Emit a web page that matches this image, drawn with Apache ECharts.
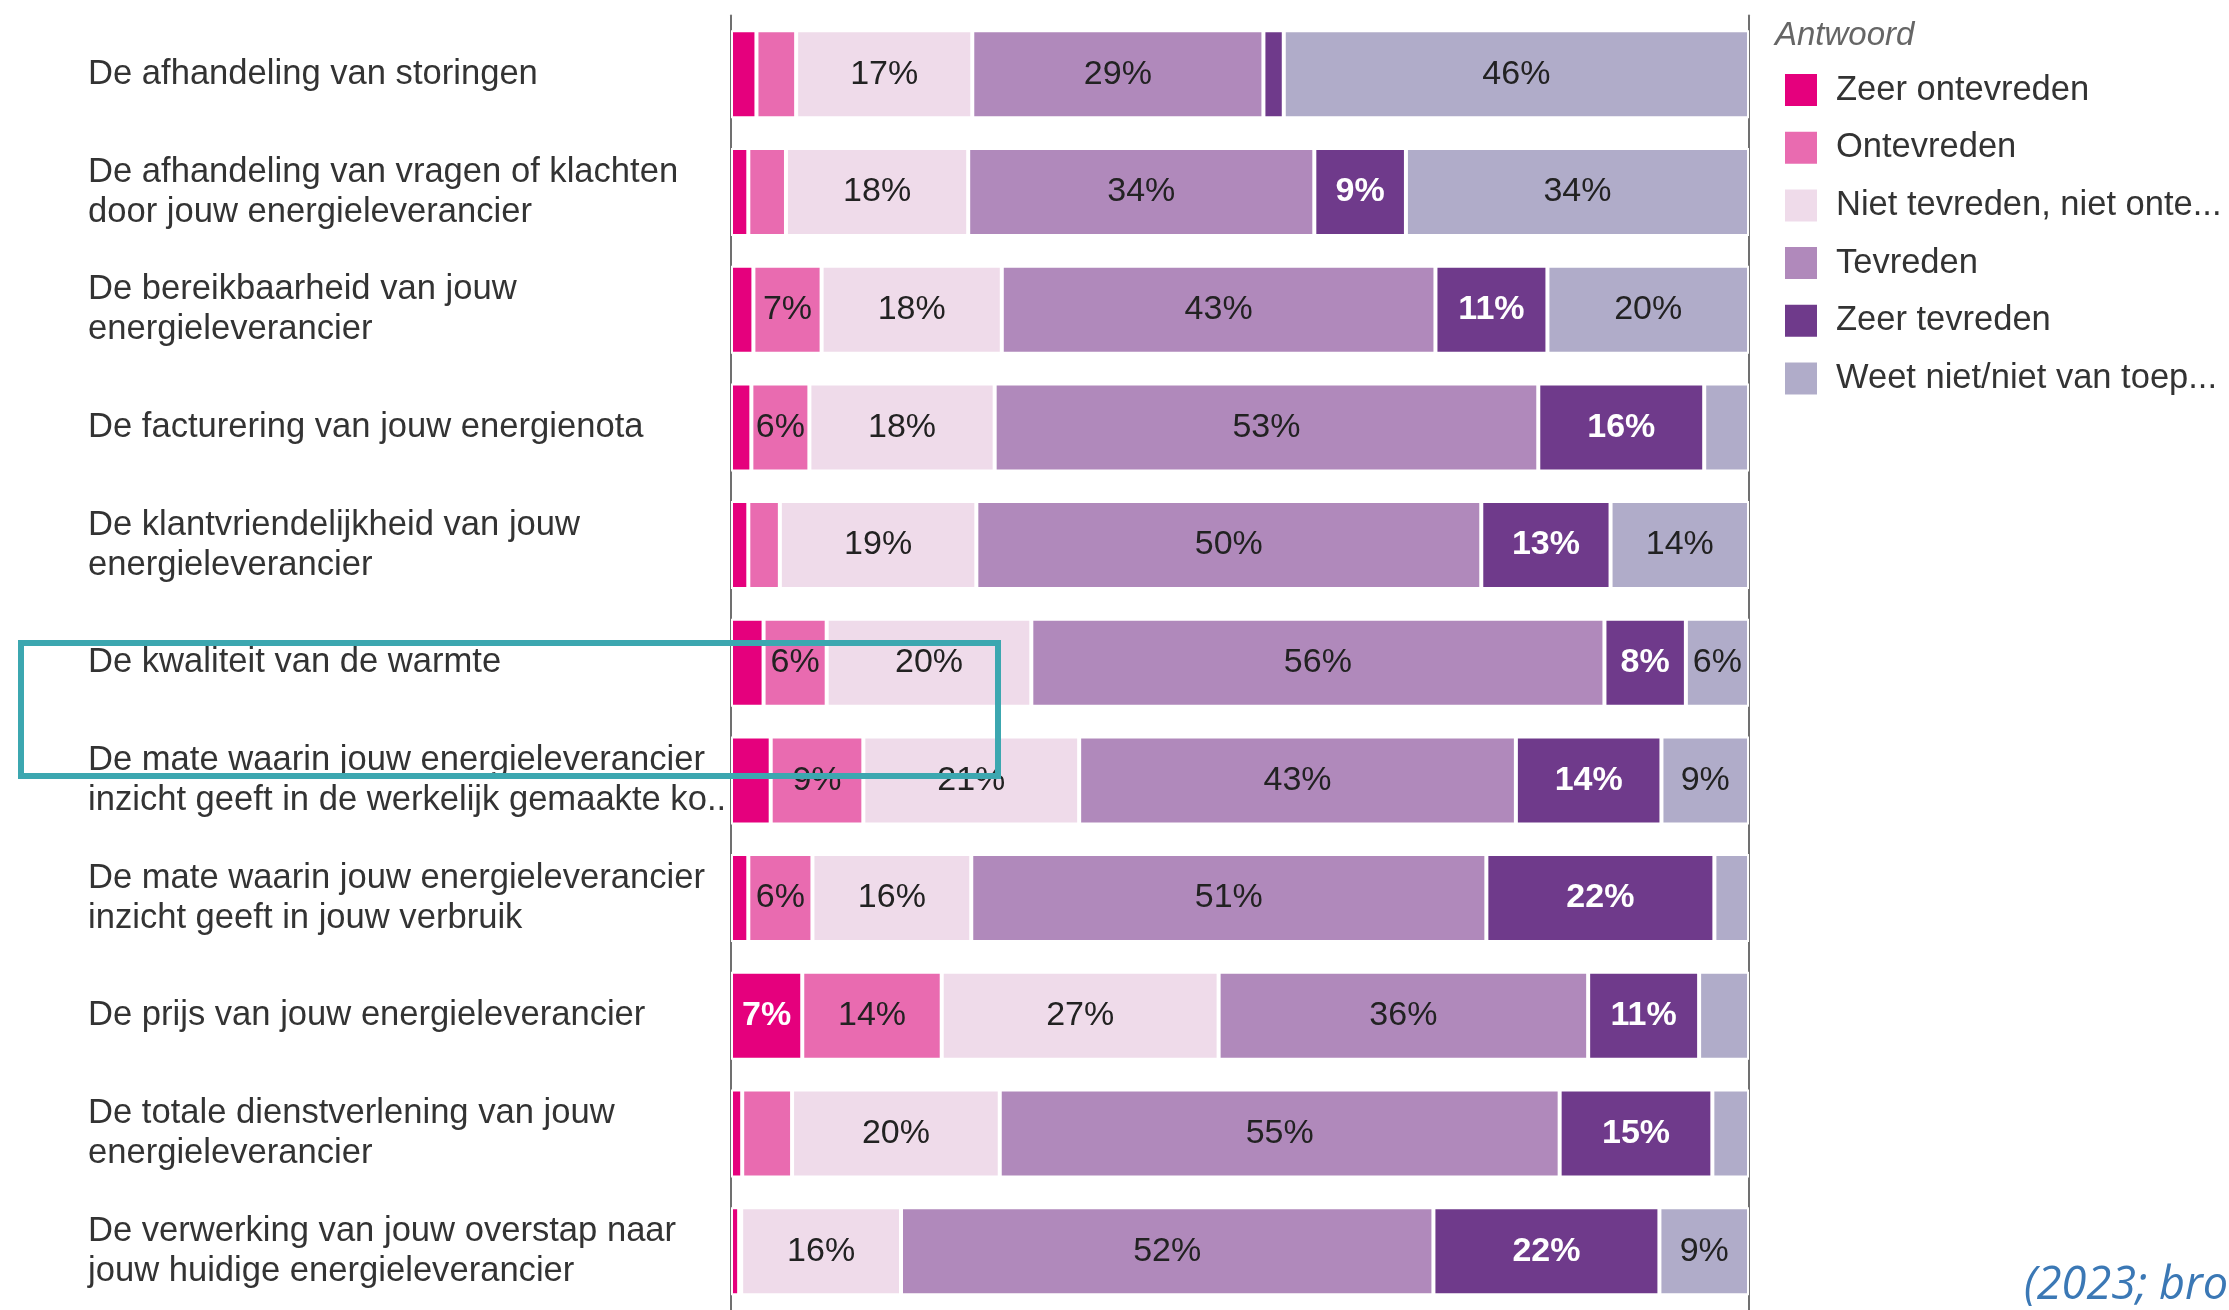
<!DOCTYPE html>
<html>
<head>
<meta charset="utf-8">
<script src="https://cdn.jsdelivr.net/npm/echarts@6/dist/echarts.min.js"></script>
<style>
    html, body { margin: 0; padding: 0; background: #fff; }
    #MyChart { width: 2229px; height: 1310px; }
</style>
</head>
<body>
<div id="MyChart"></div>
<script>
//categorieen (van boven naar beneden)
var categories = [
    'De afhandeling van storingen',
    'De afhandeling van vragen of klachten\ndoor jouw energieleverancier',
    'De bereikbaarheid van jouw\nenergieleverancier',
    'De facturering van jouw energienota',
    'De klantvriendelijkheid van jouw\nenergieleverancier',
    'De kwaliteit van de warmte',
    'De mate waarin jouw energieleverancier\ninzicht geeft in de werkelijk gemaakte ko..',
    'De mate waarin jouw energieleverancier\ninzicht geeft in jouw verbruik',
    'De prijs van jouw energieleverancier',
    'De totale dienstverlening van jouw\nenergieleverancier',
    'De verwerking van jouw overstap naar\njouw huidige energieleverancier'
];

//antwoorden
var answers = ['Zeer ontevreden', 'Ontevreden', 'Niet tevreden, niet ontevreden', 'Tevreden', 'Zeer tevreden', 'Weet niet/niet van toepassing'];

//percentages per antwoord
var zeerOntevreden = [2.5, 1.7, 2.2, 2.0, 1.7, 3.2, 3.9, 1.7, 7.0, 1.1, 0.8];
var ontevreden = [3.9, 3.7, 6.7, 5.7, 3.1, 6.2, 9.1, 6.3, 13.7, 4.9, 0.2];
var neutraal = [17.3, 17.9, 17.7, 18.2, 19.3, 20.1, 21.2, 15.6, 27.2, 20.4, 15.7];
var tevreden = [28.6, 34.0, 42.6, 53.4, 49.6, 56.3, 42.9, 50.6, 36.3, 55.0, 52.3];
var zeerTevreden = [2.0, 9.0, 11.0, 16.3, 12.7, 8.0, 14.3, 22.4, 10.9, 15.0, 22.2];
var weetNiet = [45.7, 33.7, 19.8, 4.4, 13.6, 6.2, 8.6, 3.4, 4.9, 3.6, 8.8];

var colors = ['#e5007d', '#e96bb0', '#efdbea', '#b089bb', '#6f3a8b', '#b0acc9'];
var fontFam = 'Arial, "Liberation Sans", sans-serif';

//label in een segment, alleen bij grote genoeg waarden
function segLabel(light) {
    return {
        show: true,
        position: 'inside',
        fontFamily: fontFam,
        fontSize: 34,
        color: light ? '#ffffff' : '#222222',
        fontWeight: light ? 'bold' : 'normal',
        formatter: function (p) {
            return p.value >= 5.5 ? Math.round(p.value) + '%' : '';
        }
    };
}

function makeSeries(name, data, idx, light) {
    return {
        name: name,
        type: 'bar',
        stack: 'totaal',
        barWidth: 88,
        data: data,
        itemStyle: { color: colors[idx], borderColor: '#ffffff', borderWidth: 2 },
        label: segLabel(light),
        emphasis: { disabled: true }
    };
}

function initChart() {
    var myChart = echarts.init(document.getElementById('MyChart'));
    var option = {
        animation: false,
        title: {
            text: 'Antwoord',
            left: 1770,
            top: 14,
            textStyle: { fontFamily: fontFam, fontSize: 33, fontStyle: 'italic', fontWeight: 'normal', color: '#666666' }
        },
        legend: {
            orient: 'vertical',
            left: 1778,
            top: 67,
            icon: 'rect',
            itemWidth: 34,
            itemHeight: 34,
            itemGap: 21.7,
            data: answers,
            textStyle: {
                fontFamily: fontFam,
                fontSize: 34.5,
                color: '#333333',
                padding: [0, 0, 0, 13],
                width: 392,
                overflow: 'truncate'
            }
        },
        grid: { left: 731, right: 480, top: 15.5, bottom: -13.5, containLabel: false },
        xAxis: { type: 'value', min: 0, max: 100, show: false },
        yAxis: [
            {
                type: 'category',
                inverse: true,
                data: categories,
                axisLine: { show: true, lineStyle: { color: '#707070', width: 2 } },
                axisTick: { show: false },
                axisLabel: {
                    align: 'left',
                    margin: 643,
                    fontFamily: fontFam,
                    fontSize: 34.6,
                    lineHeight: 40,
                    color: '#333333'
                }
            },
            {
                type: 'category',
                inverse: true,
                position: 'right',
                data: categories,
                axisLine: { show: true, lineStyle: { color: '#707070', width: 2 } },
                axisTick: { show: false },
                axisLabel: { show: false }
            }
        ],
        graphic: [
            {
                type: 'rect',
                shape: { x: 21, y: 643, width: 977, height: 133 },
                style: { fill: 'none', stroke: '#3ca7b0', lineWidth: 6 },
                z: 100
            },
            {
                type: 'text',
                left: 2024,
                top: 1264,
                style: {
                    text: '(2023; bron: Consumentenbond)',
                    font: 'italic 45px "Open Sans", sans-serif',
                    fill: '#3b78b5'
                },
                z: 100
            }
        ],
        series: [
            makeSeries(answers[0], zeerOntevreden, 0, true),
            makeSeries(answers[1], ontevreden, 1, false),
            makeSeries(answers[2], neutraal, 2, false),
            makeSeries(answers[3], tevreden, 3, false),
            makeSeries(answers[4], zeerTevreden, 4, true),
            makeSeries(answers[5], weetNiet, 5, false)
        ]
    };
    myChart.setOption(option);
}

initChart();
</script>
</body>
</html>
